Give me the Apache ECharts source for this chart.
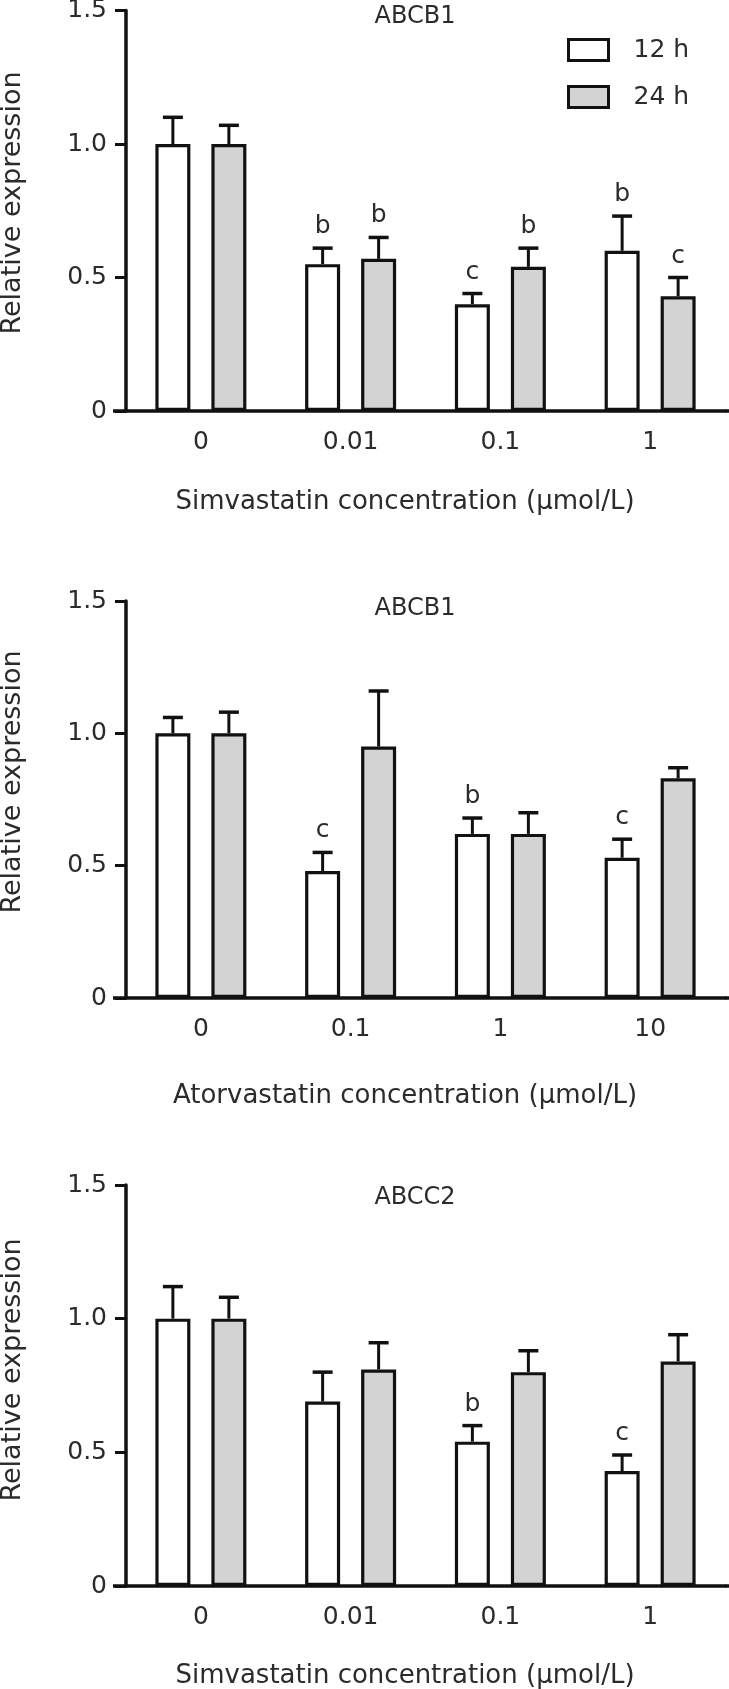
<!DOCTYPE html>
<html>
<head>
<meta charset="utf-8">
<script src="https://cdn.jsdelivr.net/npm/echarts@6/dist/echarts.min.js"></script>
<style>
html,body{margin:0;padding:0;background:#fff;}
#chart{width:729px;height:1689px;}
</style>
</head>
<body>
<div id="chart"></div>
<script>
// ---------- data ----------
const seriesNames = ['12 h', '24 h'];
const yTicks = [0, 0.5, 1.0, 1.5];

const panelTitles = ['ABCB1', 'ABCB1', 'ABCC2'];
const xTitles = ['Simvastatin concentration (μmol/L)', 'Atorvastatin concentration (μmol/L)', 'Simvastatin concentration (μmol/L)'];
const yTitle = 'Relative expression';

const cats1 = ['0', '0.01', '0.1', '1'];
const mean12_1 = [1.00, 0.55, 0.40, 0.60];
const sem12_1  = [0.10, 0.06, 0.04, 0.13];
const sig12_1  = ['', 'b', 'c', 'b'];
const mean24_1 = [1.00, 0.57, 0.54, 0.43];
const sem24_1  = [0.07, 0.08, 0.07, 0.07];
const sig24_1  = ['', 'b', 'b', 'c'];

const cats2 = ['0', '0.1', '1', '10'];
const mean12_2 = [1.00, 0.48, 0.62, 0.53];
const sem12_2  = [0.06, 0.07, 0.06, 0.07];
const sig12_2  = ['', 'c', 'b', 'c'];
const mean24_2 = [1.00, 0.95, 0.62, 0.83];
const sem24_2  = [0.08, 0.21, 0.08, 0.04];
const sig24_2  = ['', '', '', ''];

const cats3 = ['0', '0.01', '0.1', '1'];
const mean12_3 = [1.00, 0.69, 0.54, 0.43];
const sem12_3  = [0.12, 0.11, 0.06, 0.06];
const sig12_3  = ['', '', 'b', 'c'];
const mean24_3 = [1.00, 0.81, 0.80, 0.84];
const sem24_3  = [0.08, 0.10, 0.08, 0.10];
const sig24_3  = ['', '', '', ''];

// ---------- layout / style ----------
const FONT = '"DejaVu Sans", "Liberation Sans", Arial, sans-serif';
const INK = '#111';
const TXT = '#2b2b2b';
const GRAY = '#d3d3d3';
const BAR_W = 35;
const BAR_GAP = 0.6;
const BAR_OFF = (BAR_W + BAR_W * BAR_GAP) / 2;
const CAP_HALF = 10;
const LINE_W = 3.5;

const grids = [
  {left: 126, width: 599, top: 10.5, height: 400.5, outerBoundsMode: 'none'},
  {left: 126, width: 599, top: 601, height: 397, outerBoundsMode: 'none'},
  {left: 126, width: 599, top: 1185, height: 401, outerBoundsMode: 'none'}
];
const titleY = [17, 609, 1198];
const xTitleY = [502, 1096, 1676];
const yTitleY = [203, 782, 1370];

const panels = [
  {cats: cats1, m12: mean12_1, e12: sem12_1, s12: sig12_1, m24: mean24_1, e24: sem24_1, s24: sig24_1},
  {cats: cats2, m12: mean12_2, e12: sem12_2, s12: sig12_2, m24: mean24_2, e24: sem24_2, s24: sig24_2},
  {cats: cats3, m12: mean12_3, e12: sem12_3, s12: sig12_3, m24: mean24_3, e24: sem24_3, s24: sig24_3}
];

function errRenderer(sign, letters) {
  return function (params, api) {
    const ci = api.value(0), m = api.value(1), e = api.value(2);
    const p0 = api.coord([ci, m]);
    const p1 = api.coord([ci, m + e]);
    const x = p0[0] + sign * BAR_OFF;
    const children = [
      {type: 'line', shape: {x1: x, y1: p0[1], x2: x, y2: p1[1]}, style: {stroke: INK, lineWidth: 3}},
      {type: 'line', shape: {x1: x - CAP_HALF, y1: p1[1], x2: x + CAP_HALF, y2: p1[1]}, style: {stroke: INK, lineWidth: 3.5}}
    ];
    const t = letters[params.dataIndex];
    if (t) {
      children.push({type: 'text', x: x, y: p1[1] - 9,
        style: {text: t, fill: TXT, font: '25px ' + FONT, align: 'center', verticalAlign: 'bottom'}});
    }
    return {type: 'group', children: children};
  };
}

const xAxes = [], yAxes = [], series = [], graphics = [];
panels.forEach(function (p, i) {
  xAxes.push({
    type: 'category', gridIndex: i, data: p.cats,
    axisLine: {lineStyle: {color: INK, width: LINE_W}},
    axisTick: {alignWithLabel: true, length: 12, lineStyle: {color: INK, width: LINE_W}},
    axisLabel: {fontSize: 25, color: TXT, margin: 19, fontFamily: FONT}
  });
  yAxes.push({
    type: 'value', gridIndex: i, min: yTicks[0], max: yTicks[yTicks.length - 1], interval: 0.5,
    axisLine: {show: true, lineStyle: {color: INK, width: LINE_W}},
    axisTick: {show: true, length: 11, lineStyle: {color: INK, width: 3}},
    splitLine: {show: false},
    axisLabel: {fontSize: 25, color: TXT, margin: 19, fontFamily: FONT,
      formatter: function (v) { return v === 0 ? '0' : v.toFixed(1); }}
  });
  series.push({
    name: seriesNames[0], type: 'bar', xAxisIndex: i, yAxisIndex: i,
    barWidth: BAR_W, barGap: (BAR_GAP * 100) + '%', data: p.m12,
    itemStyle: {color: '#fff', borderColor: INK, borderWidth: 3.2}
  });
  series.push({
    name: seriesNames[1], type: 'bar', xAxisIndex: i, yAxisIndex: i,
    barWidth: BAR_W, barGap: (BAR_GAP * 100) + '%', data: p.m24,
    itemStyle: {color: GRAY, borderColor: INK, borderWidth: 3.2}
  });
  series.push({
    type: 'custom', xAxisIndex: i, yAxisIndex: i, z: 5,
    renderItem: errRenderer(-1, p.s12),
    data: p.m12.map(function (v, k) { return [k, v, p.e12[k]]; })
  });
  series.push({
    type: 'custom', xAxisIndex: i, yAxisIndex: i, z: 5,
    renderItem: errRenderer(1, p.s24),
    data: p.m24.map(function (v, k) { return [k, v, p.e24[k]]; })
  });
  const g = grids[i];
  const baseY = g.top + g.height;
  graphics.push({type: 'line', shape: {x1: g.left - 13, y1: baseY, x2: g.left, y2: baseY},
    style: {stroke: INK, lineWidth: LINE_W}});
  graphics.push({type: 'line', shape: {x1: g.left + g.width, y1: baseY, x2: 729, y2: baseY},
    style: {stroke: INK, lineWidth: LINE_W}});
  graphics.push({type: 'text', x: 415, y: titleY[i],
    style: {text: panelTitles[i], fill: TXT, font: '24px ' + FONT, align: 'center', verticalAlign: 'middle'}});
  graphics.push({type: 'text', x: 405, y: xTitleY[i],
    style: {text: xTitles[i], fill: TXT, font: '26px ' + FONT, align: 'center', verticalAlign: 'middle'}});
  graphics.push({type: 'text', x: 13, y: yTitleY[i], rotation: Math.PI / 2,
    style: {text: yTitle, fill: TXT, font: '27px ' + FONT, align: 'center', verticalAlign: 'middle'}});
});

const chart = echarts.init(document.getElementById('chart'), null, {renderer: 'canvas'});
chart.setOption({
  animation: false,
  backgroundColor: '#fff',
  textStyle: {fontFamily: FONT},
  grid: grids,
  xAxis: xAxes,
  yAxis: yAxes,
  legend: {
    data: seriesNames, orient: 'vertical', left: 567, top: 37.5, padding: 0,
    itemWidth: 40, itemHeight: 21, itemGap: 22, icon: 'rect',
    textStyle: {fontSize: 25, color: TXT, fontFamily: FONT, padding: [0, 0, 0, 20]},
    itemStyle: {borderColor: INK, borderWidth: 3}
  },
  series: series,
  graphic: graphics
});
</script>
</body>
</html>
